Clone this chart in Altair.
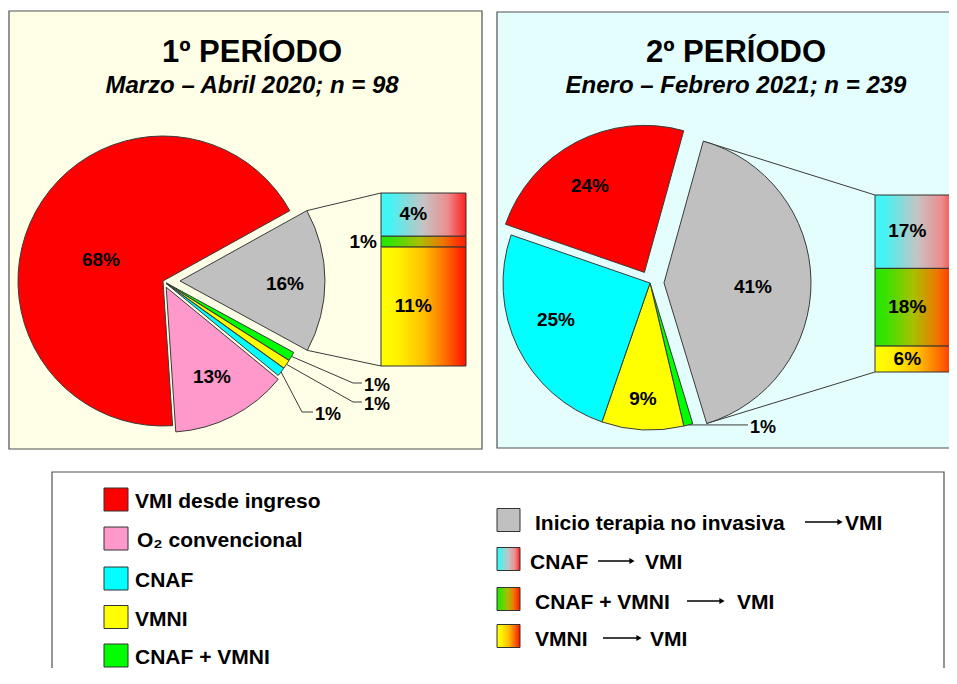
import math
import pandas as pd
import altair as alt

# ---------------- data ----------------
pie_categories = ["Inicio terapia no invasiva → VMI", "CNAF + VMNI", "VMNI", "CNAF",
                  "O₂ convencional", "VMI desde ingreso"]          # clockwise order
period1_values = [16, 1, 1, 1, 13, 68]
period2_values = [41, 1, 9, 25, 0, 24]
bar_categories = ["CNAF → VMI", "CNAF + VMNI → VMI", "VMNI → VMI"]   # top to bottom
period1_bar_values = [4, 1, 11]
period2_bar_values = [17, 18, 6]
period_titles = ["1º PERÍODO", "2º PERÍODO"]
period_subtitles = ["Marzo – Abril 2020; n = 98", "Enero – Febrero 2021; n = 239"]
legend_left = ["VMI desde ingreso", "O₂ convencional", "CNAF", "VMNI", "CNAF + VMNI"]
legend_right_keys = ["Inicio terapia no invasiva → VMI", "CNAF → VMI", "CNAF + VMNI → VMI", "VMNI → VMI"]
legend_right_text = [("Inicio terapia no invasiva", "VMI"), ("CNAF", "VMI"),
                     ("CNAF + VMNI", "VMI"), ("VMNI", "VMI")]

# ---------------- styles ----------------
FONT = "Liberation Sans, Arial, Helvetica, sans-serif"
COLORS = {"VMI desde ingreso": "#FF0000", "O₂ convencional": "#FF99CC", "CNAF": "#00FFFF",
          "VMNI": "#FFFF00", "CNAF + VMNI": "#00FF00",
          "Inicio terapia no invasiva → VMI": "#C0C0C0"}
GRADIENTS = {
    "CNAF → VMI": [(0, "#3CF7F7"), (0.12, "#48F2F2"), (0.5, "#C6C3C3"), (0.78, "#EC8E8E"), (1, "#FF2020")],
    "CNAF + VMNI → VMI": [(0, "#22E800"), (0.15, "#40E000"), (0.45, "#A8C000"), (0.72, "#EC7A00"), (0.88, "#FF3C00"), (1, "#FF2000")],
    "VMNI → VMI": [(0, "#FFFF00"), (0.2, "#FFF200"), (0.5, "#FFC000"), (0.75, "#FF7000"), (1, "#FF1000")],
}
EDGE = "#3A3A3A"

# ---------------- layout (page pixel coordinates) ----------------
W, H = 941, 660
xs = alt.Scale(domain=[8, 8 + W], nice=False, zero=False)
ys = alt.Scale(domain=[8, 8 + H], nice=False, zero=False, reverse=True)

PANELS = [dict(x0=9, y0=11, x1=482, y1=449, fill="#FFFFE8"),
          dict(x0=497, y0=12, x1=985, y1=448, fill="#E4FEFE")]
PIES = [
    dict(cx=163, cy=281, r=145, start=61,
         explode={"Inicio terapia no invasiva → VMI": 17, "CNAF + VMNI": 4, "VMNI": 4, "CNAF": 4,
                  "O₂ convencional": 7},
         labels={"VMI desde ingreso": (-62, -22), "Inicio terapia no invasiva → VMI": (122, 2),
                 "O₂ convencional": (49, 95)},
         callouts={"CNAF + VMNI": (353, 362, 383), "VMNI": (353, 362, 402), "CNAF": (302, 313, 412)},
         bar=dict(x0=381, x1=466, y0=193, y1=366), title_x=252),
    dict(cx=650, cy=283, r=147, start=15.5,
         explode={"Inicio terapia no invasiva → VMI": 14, "VMI desde ingreso": 12},
         labels={"VMI desde ingreso": (-60, -98), "Inicio terapia no invasiva → VMI": (103, 3),
                 "CNAF": (-94, 36), "VMNI": (-7, 115)},
         callouts={"CNAF + VMNI": (None, 748, None)},
         bar=dict(x0=875, x1=960, y0=195, y1=372), title_x=736),
]
LEGEND_BOX = dict(x0=52, y0=472, x1=944, y1=720)
LEFT_ROWS = [499.5, 538.5, 578.5, 617, 655.5]
RIGHT_ROWS = [520, 559, 599, 636]
RIGHT_ARROWS = [(805, 843, 845), (598, 635, 645), (687, 725, 737), (603, 642, 650)]


def X(f):
    return alt.X(f"{f}:Q", scale=xs, axis=None)


def Y(f):
    return alt.Y(f"{f}:Q", scale=ys, axis=None)


def text_layer(rows, size, align="center", italic=False, weight="bold"):
    # rows: (x, cap_center_y, text)
    df = pd.DataFrame([{"x": x, "y": y + 0.358 * size, "t": t} for x, y, t in rows])
    return alt.Chart(df).mark_text(font=FONT, fontSize=size, fontWeight=weight,
                                   fontStyle="italic" if italic else "normal",
                                   align=align, baseline="alphabetic", color="#000000").encode(
        x=X("x"), y=Y("y"), text="t:N")


def gradient(name):
    return alt.LinearGradient(gradient="linear", x1=0, x2=1, y1=0, y2=0,
                              stops=[alt.GradientStop(offset=o, color=c) for o, c in GRADIENTS[name]])


# ---------------- build geometry from the data ----------------
slices, leaders, texts19_c, texts_call, texts19_r = [], [], [], [], []
solid_rects, grad_rects = [], {k: [] for k in GRADIENTS}

for pie, vals, bvals in zip(PIES, [period1_values, period2_values], [period1_bar_values, period2_bar_values]):
    cum = 0.0
    geo = {}
    for cat, v in zip(pie_categories, vals):
        if v <= 0:
            continue
        a0 = pie["start"] + cum * 3.6
        a1 = a0 + v * 3.6
        cum += v
        mid = math.radians((a0 + a1) / 2)
        e = pie["explode"].get(cat, 0)
        cx = pie["cx"] + e * math.sin(mid)
        cy = pie["cy"] - e * math.cos(mid)
        slices.append(dict(cx=cx, cy=cy, t0=math.radians(a0), t1=math.radians(a1),
                           r=pie["r"], color=COLORS[cat]))
        geo[cat] = (cx, cy, a0, a1)
        if cat in pie["labels"]:
            dx, dy = pie["labels"][cat]
            texts19_c.append((pie["cx"] + dx, pie["cy"] + dy, f"{v}%"))
        if cat in pie["callouts"]:
            ex, endx, ly = pie["callouts"][cat]
            px = cx + pie["r"] * math.sin(mid)
            py = cy - pie["r"] * math.cos(mid)
            if ly is None:
                ly = py
            if ex is None:
                leaders.append(dict(x=px, y=py, x2=endx, y2=ly))
            else:
                leaders.append(dict(x=px, y=py, x2=ex, y2=ly))
                leaders.append(dict(x=ex, y=ly, x2=endx, y2=ly))
            texts_call.append((endx + 2, ly + 2, f"{v}%"))
    # bar of the "other" (grey) slice
    b = pie["bar"]
    gcx, gcy, ga0, ga1 = geo["Inicio terapia no invasiva → VMI"]
    for ang, by in [(ga0, b["y0"]), (ga1, b["y1"])]:
        leaders.append(dict(x=gcx + pie["r"] * math.sin(math.radians(ang)),
                            y=gcy - pie["r"] * math.cos(math.radians(ang)),
                            x2=b["x0"], y2=by))
    total = sum(bvals)
    k = (b["y1"] - b["y0"]) / total
    c = 0
    for cat, v in zip(bar_categories, bvals):
        y0 = b["y0"] + c * k
        y1 = y0 + v * k
        c += v
        grad_rects[cat].append(dict(x0=b["x0"], x1=b["x1"], y0=y0, y1=y1))
        if v * k < 16:
            texts19_r.append((b["x0"] - 4, (y0 + y1) / 2, f"{v}%"))
        else:
            texts19_c.append((b["x0"] + 0.38 * (b["x1"] - b["x0"]), (y0 + y1) / 2 - 1, f"{v}%"))

# legend swatches
for cat, yc in zip(legend_left, LEFT_ROWS):
    solid_rects.append(dict(x0=104, x1=128, y0=yc - 11.5, y1=yc + 11.5, fill=COLORS[cat]))
for key, yc in zip(legend_right_keys, RIGHT_ROWS):
    box = dict(x0=497, x1=520, y0=yc - 11.5, y1=yc + 11.5)
    if key in COLORS:
        solid_rects.append(dict(box, fill=COLORS[key]))
    else:
        grad_rects[key].append(box)

# ---------------- layers ----------------
layers = []
panel_df = pd.DataFrame(PANELS)
layers.append(alt.Chart(panel_df).mark_rect(stroke="#505050", strokeWidth=1.2, clip=True).encode(
    x=X("x0"), x2=alt.X2("x1:Q"), y=Y("y0"), y2=alt.Y2("y1:Q"), color=alt.Color("fill:N", scale=None)))
layers.append(alt.Chart(pd.DataFrame([LEGEND_BOX])).mark_rect(
    fill="#FFFFFF", stroke="#505050", strokeWidth=1.2, clip=True).encode(
    x=X("x0"), x2=alt.X2("x1:Q"), y=Y("y0"), y2=alt.Y2("y1:Q")))

layers.append(alt.Chart(pd.DataFrame(leaders)).mark_rule(color=EDGE, strokeWidth=1).encode(
    x=X("x"), y=Y("y"), x2=alt.X2("x2:Q"), y2=alt.Y2("y2:Q")))

layers.append(alt.Chart(pd.DataFrame(slices)).mark_arc(stroke=EDGE, strokeWidth=1).encode(
    x=X("cx"), y=Y("cy"),
    theta=alt.Theta("t0:Q", scale=None, stack=False), theta2=alt.Theta2("t1:Q"),
    radius=alt.Radius("r:Q", scale=None), color=alt.Color("color:N", scale=None)))

layers.append(alt.Chart(pd.DataFrame(solid_rects)).mark_rect(stroke="#333333", strokeWidth=1).encode(
    x=X("x0"), x2=alt.X2("x1:Q"), y=Y("y0"), y2=alt.Y2("y1:Q"), color=alt.Color("fill:N", scale=None)))
for key, rows in grad_rects.items():
    layers.append(alt.Chart(pd.DataFrame(rows)).mark_rect(
        fill=gradient(key), stroke="#333333", strokeWidth=1, clip=True).encode(
        x=X("x0"), x2=alt.X2("x1:Q"), y=Y("y0"), y2=alt.Y2("y1:Q")))

# arrows of the legend
arrow_rows = [dict(x=a0, x2=a1 - 4, y=yc + 2, xh=a1 - 3) for (a0, a1, _), yc in zip(RIGHT_ARROWS, RIGHT_ROWS)]
arrow_df = pd.DataFrame(arrow_rows)
layers.append(alt.Chart(arrow_df).mark_rule(color="#000000", strokeWidth=1.3).encode(
    x=X("x"), x2=alt.X2("x2:Q"), y=Y("y")))
layers.append(alt.Chart(arrow_df).mark_point(shape="triangle-right", filled=True, size=36,
                                             color="#000000", opacity=1).encode(x=X("xh"), y=Y("y")))

# texts
layers.append(text_layer(texts19_c, 19, "center"))
layers.append(text_layer(texts_call, 18, "left"))
layers.append(text_layer(texts19_r, 19, "right"))
layers.append(text_layer([(p["title_x"], 50.5, t) for p, t in zip(PIES, period_titles)], 31))
layers.append(text_layer([(p["title_x"], 84.3, t) for p, t in zip(PIES, period_subtitles)], 24, italic=True))
left_x = [135, 137, 135, 135, 135]
layers.append(text_layer([(x, yc + 1, t) for x, yc, t in zip(left_x, LEFT_ROWS, legend_left)], 21, "left"))
right_first_x = [535, 530, 535, 535]
layers.append(text_layer([(x, yc + 2, a) for x, yc, (a, _) in zip(right_first_x, RIGHT_ROWS, legend_right_text)], 21, "left"))
layers.append(text_layer([(v, yc + 2, b) for (_, _, v), yc, (_, b) in zip(RIGHT_ARROWS, RIGHT_ROWS, legend_right_text)], 21, "left"))

chart = alt.layer(*layers).properties(
    width=W, height=H, padding=0, background="#FFFFFF",
    autosize=alt.AutoSizeParams(type="none"),
).configure_view(strokeWidth=0)

chart.save("out.html", embed_options={"renderer": "svg", "actions": False})
